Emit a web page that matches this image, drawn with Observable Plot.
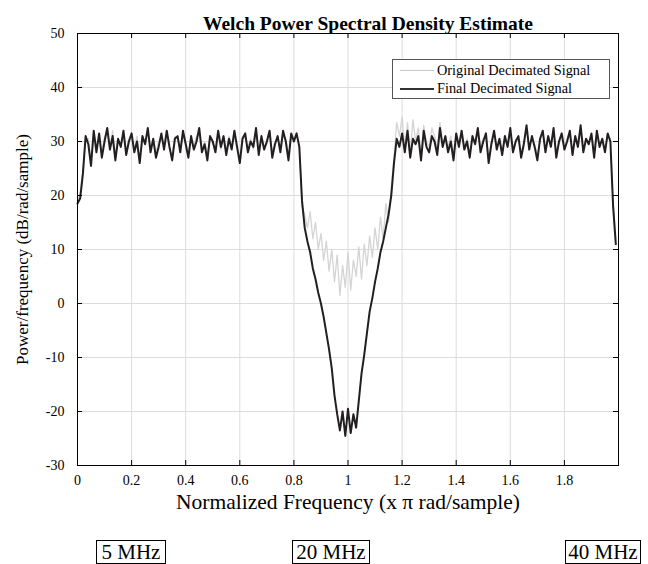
<!DOCTYPE html>
<html><head><meta charset="utf-8">
<script src="https://cdn.jsdelivr.net/npm/d3@7"></script>
<script src="https://cdn.jsdelivr.net/npm/@observablehq/plot@0.6"></script>
<style>
body{margin:0;background:#fff;}
#wrap{position:relative;width:648px;height:564px;font-family:"Liberation Serif","Times New Roman",serif;color:#000;overflow:hidden;}
#chart svg{display:block;}
.legend{position:absolute;left:392px;top:59px;width:218px;height:40px;border:1px solid #555;background:#fff;box-sizing:border-box;font-size:14.3px;}
.legend .row{position:absolute;left:0;height:16px;line-height:16px;white-space:nowrap;}
.legend .sw{position:absolute;left:7px;width:34px;top:8px;}
.legend .lab{position:absolute;left:44px;top:0;}
.box{position:absolute;top:540px;height:24px;border:1px solid #000;box-sizing:border-box;font-size:21px;line-height:22px;text-align:center;background:#fff;}
</style>
</head><body>
<div id="wrap">
  <div id="chart"></div>
  <div class="legend" id="legend"></div>
  <div id="boxes"></div>
</div>
<script>
const titleText = "Welch Power Spectral Density Estimate";
const xLabel = "Normalized Frequency (x \u03c0 rad/sample)";
const yLabel = "Power/frequency (dB/rad/sample)";
const seriesNames = ["Original Decimated Signal", "Final Decimated Signal"];
const seriesColors = ["#d4d4d4", "#231f20"];
const bandLabels = ["5 MHz", "20 MHz", "40 MHz"];
const xTicks = [0, 0.2, 0.4, 0.6, 0.8, 1, 1.2, 1.4, 1.6, 1.8];
const yTicks = [-30, -20, -10, 0, 10, 20, 30, 40, 50];
const freqStep = 0.01; // x pi rad/sample per bin

const finalPsd = [
  18.5, 19.5, 24, 31, 29.5, 25.5, 32, 28, 31.5, 27,
  30, 32.5, 28.5, 31, 26.5, 30.5, 29, 32, 27.5, 30,
  31.5, 28, 30, 26, 31, 29.5, 32.5, 28, 30.5, 27,
  29, 31.5, 28.5, 32, 29, 26.5, 30.5, 31, 28, 32,
  29.5, 27, 31, 28.5, 30, 32.5, 28, 29.5, 26.5, 31,
  30, 28, 32, 29, 31, 27.5, 30.5, 28.5, 32, 29,
  26, 30.5, 31.5, 28, 30, 29, 32.5, 27.5, 31, 28.5,
  30, 32, 27, 29.5, 31, 28, 32, 30, 26.5, 31.5,
  30, 31.5, 29, 19, 14, 11.5, 9.5, 6.5, 4.5, 2,
  0, -2.5, -5.5, -8.5, -12, -17, -20.5, -23.5, -20, -24.5,
  -19.5, -24, -20.5, -23, -18, -13, -9.5, -5.5, -1.5, 1,
  4, 6.5, 9.5, 11.5, 14, 16.5, 20, 26, 30.5, 29,
  31.5, 28, 32, 27, 30.5, 29.5, 31, 26.5, 32, 29,
  28, 31, 30, 27.5, 32.5, 29, 31, 28, 30, 26.5,
  31.5, 29, 32, 28.5, 30, 27, 31, 29.5, 32.5, 28,
  30, 31.5, 26, 29.5, 32, 28.5, 30.5, 27.5, 31, 29,
  32.5, 28, 30, 31, 27, 29.5, 33, 28.5, 31, 29,
  26.5, 30.5, 32, 28, 31, 29, 32.5, 27, 30, 31.5,
  28.5, 30, 32, 27.5, 31, 29, 33, 28, 30.5, 29.5,
  31.5, 27, 32, 29, 30.5, 28, 31.5, 30, 18, 11
];

const originalPsd = [
  19, 20.5, 25, 30, 30.5, 26.5, 31.5, 29, 30.5, 28,
  31, 31.5, 29, 32, 27.5, 30, 29.5, 31, 28.5, 30.5,
  30.5, 28.5, 31, 27, 30.5, 30, 31.5, 29, 30, 28,
  30, 31, 29, 31.5, 28.5, 27.5, 31, 30.5, 29, 31,
  30, 28, 30.5, 29, 31, 31.5, 28.5, 30, 27.5, 30.5,
  29.5, 29, 31.5, 28.5, 30.5, 28, 31, 29, 31, 28.5,
  27, 31, 30.5, 29, 30.5, 28.5, 31.5, 28.5, 30.5, 29,
  29.5, 31.5, 28, 30, 30.5, 29, 31, 30.5, 27.5, 30.5,
  30.5, 31, 29.5, 18, 16.5, 14, 17, 12, 15, 10,
  13, 8, 11.5, 6, 10, 4, 9, 1.5, 7, 3,
  9.5, 2.5, 8, 5, 10.5, 4.5, 11, 7, 12.5, 8.5,
  14, 10, 16, 12, 18.5, 15, 21.5, 27, 33.5, 31,
  34.5, 29, 33.5, 28, 34, 30, 32.5, 27.5, 33, 30,
  29, 32.5, 31, 28.5, 33.5, 29.5, 30.5, 29, 31, 27.5,
  30.5, 30, 31.5, 29, 30.5, 28, 30.5, 30, 31.5, 29,
  30.5, 31, 27, 30, 31.5, 29, 30, 28.5, 30.5, 29.5,
  32, 28.5, 30.5, 30.5, 28, 30, 32, 29, 30.5, 29.5,
  27.5, 30, 31.5, 28.5, 30.5, 29.5, 32, 28, 29.5, 31,
  29, 30.5, 31.5, 28, 30.5, 29.5, 32.5, 28.5, 30, 30,
  31, 28, 31.5, 29.5, 30, 28.5, 31, 30.5, 19, 12
];

const rows = [];
originalPsd.forEach((v, i) => rows.push({f: i * freqStep, p: v, s: seriesNames[0]}));
finalPsd.forEach((v, i) => rows.push({f: i * freqStep, p: v, s: seriesNames[1]}));

const W = 648, H = 530;
const mT = 33, mL = 77, mR = 30, mB = H - 465;
const innerW = W - mL - mR, innerH = H - mT - mB;
const tick = 5;

const chart = Plot.plot({
  width: W, height: H,
  marginTop: mT, marginLeft: mL, marginRight: mR, marginBottom: mB,
  x: {domain: [0, 2]},
  y: {domain: [-30, 50]},
  color: {domain: seriesNames, range: seriesColors},
  style: {fontFamily: '"Liberation Serif","Times New Roman",serif', fontSize: "14px", background: "#fff", color: "#000", overflow: "visible"},
  marks: [
    Plot.gridX(xTicks, {stroke: "#dcdcdc", strokeOpacity: 1}),
    Plot.gridY(yTicks, {stroke: "#dcdcdc", strokeOpacity: 1}),
    Plot.line(rows.filter(d => d.s === seriesNames[0]), {x: "f", y: "p", stroke: seriesColors[0], strokeWidth: 1.3}),
    Plot.line(rows.filter(d => d.s === seriesNames[1]), {x: "f", y: "p", stroke: seriesColors[1], strokeWidth: 2}),
    Plot.frame({stroke: "#000", strokeWidth: 1}),
    Plot.tickX(xTicks, {x: d => d, insetTop: innerH - tick, stroke: "#000"}),
    Plot.tickX(xTicks, {x: d => d, insetBottom: innerH - tick, stroke: "#000"}),
    Plot.tickY(yTicks, {y: d => d, insetLeft: innerW - tick, stroke: "#000"}),
    Plot.tickY(yTicks, {y: d => d, insetRight: innerW - tick, stroke: "#000"}),
    Plot.axisX(xTicks, {tickSize: 0, tickPadding: 10, label: null, tickFormat: d => String(d), fontSize: 14}),
    Plot.axisY(yTicks, {tickSize: 0, tickPadding: 13, label: null, tickFormat: d => String(d), fontSize: 14}),
    Plot.text([titleText], {frameAnchor: "top", dx: 20, dy: -17, text: d => d, fontWeight: "bold", fontSize: 19.5}),
    Plot.text([xLabel], {frameAnchor: "bottom", dy: 43, text: d => d, fontSize: 21.5}),
    Plot.text([yLabel], {frameAnchor: "left", dx: -55, rotate: -90, textAnchor: "middle", text: d => d, fontSize: 17})
  ]
});
document.getElementById("chart").appendChild(chart);

// legend
const legend = document.getElementById("legend");
seriesNames.forEach((name, i) => {
  const row = document.createElement("div");
  row.className = "row";
  row.style.top = (2 + i * 18) + "px";
  row.style.width = "100%";
  const sw = document.createElement("div");
  sw.className = "sw";
  sw.style.borderTop = (i === 0 ? 1 : 2) + "px solid " + (i === 0 ? "#c8c8c8" : "#333");
  const lab = document.createElement("span");
  lab.className = "lab";
  lab.textContent = name;
  row.appendChild(sw); row.appendChild(lab);
  legend.appendChild(row);
});

// band boxes
const boxPos = [[96, 70], [292, 78], [565, 76]];
const boxes = document.getElementById("boxes");
bandLabels.forEach((t, i) => {
  const b = document.createElement("div");
  b.className = "box";
  b.style.left = boxPos[i][0] + "px";
  b.style.width = boxPos[i][1] + "px";
  b.textContent = t;
  boxes.appendChild(b);
});
</script>
</body></html>
